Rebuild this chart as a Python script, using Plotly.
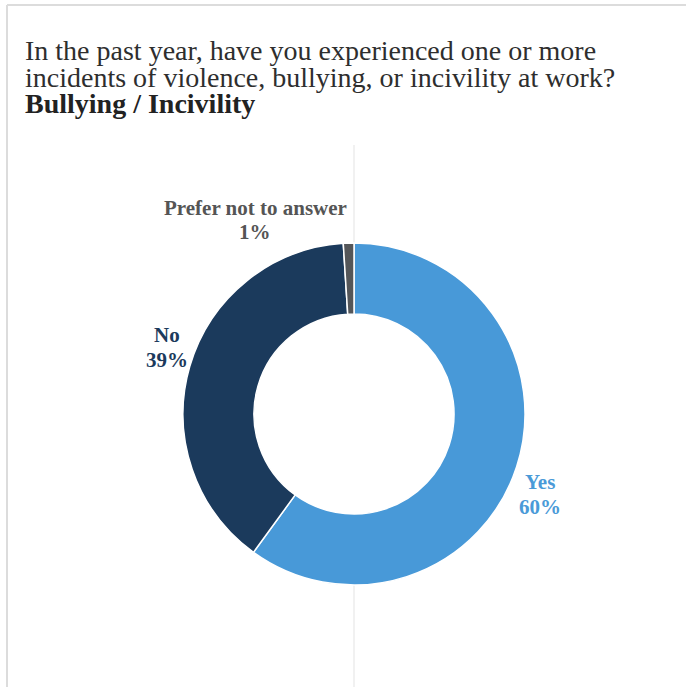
import plotly.graph_objects as go

# Survey responses: bullying / incivility at work
categories = ["Yes", "No", "Prefer not to answer"]
shares = [60, 39, 1]
slice_colors = ["#4899d8", "#1b3a5c", "#545659"]
label_colors = ["#4a9ad8", "#1b3a5c", "#555555"]

title_lines = [
    "In the past year, have you experienced one or more",
    "incidents of violence, bullying, or incivility at work?",
]
subtitle = "Bullying / Incivility"

W, H = 686, 687
cx, cy, R = 354, 414, 171  # donut centre and radius in pixels
serif = "Liberation Serif, Times New Roman, serif"


def px(x):
    return x / W


def py(y):
    return 1 - y / H


fig = go.Figure()
fig.add_trace(go.Pie(
    labels=categories,
    values=shares,
    sort=False,
    direction="clockwise",
    rotation=0,
    hole=0.585,
    marker=dict(colors=slice_colors, line=dict(color="white", width=1.5)),
    textinfo="none",
    hoverinfo="label+percent",
    showlegend=False,
    domain=dict(x=[px(cx - R), px(cx + R)], y=[py(cy + R), py(cy - R)]),
))

# Slice labels placed around the ring: name on one line, share below
label_pos = {"Yes": (540, 494), "No": (167, 347), "Prefer not to answer": (255, 220)}
for cat, val, col in zip(categories, shares, label_colors):
    x, y = label_pos[cat]
    for text, yy in ((cat, y - 12.5), (f"{val}%", y + 12.5)):
        fig.add_annotation(
            x=px(x), y=py(yy), xref="paper", yref="paper",
            text=f"<b>{text}</b>", showarrow=False,
            font=dict(family=serif, size=21, color=col),
            xanchor="center", yanchor="middle",
        )

# Title block, set with tight leading
for i, line in enumerate(title_lines):
    fig.add_annotation(
        x=px(23), y=py(50 + 27 * i), xref="paper", yref="paper",
        text=line, showarrow=False, xanchor="left", yanchor="middle",
        font=dict(family=serif, size=28, color="#2e2e2e"),
    )
fig.add_annotation(
    x=px(23), y=py(104), xref="paper", yref="paper",
    text=f"<b>{subtitle}</b>", showarrow=False, xanchor="left", yanchor="middle",
    font=dict(family=serif, size=28, color="#222222"),
)

shapes = [
    # frame
    dict(type="line", xref="paper", yref="paper", x0=px(7), x1=1.01, y0=py(5), y1=py(5),
         line=dict(color="#dcdcdc", width=2)),
    dict(type="line", xref="paper", yref="paper", x0=px(7), x1=px(7), y0=py(5), y1=-0.01,
         line=dict(color="#dcdcdc", width=2)),
    # centre divider
    dict(type="line", xref="paper", yref="paper", x0=px(cx), x1=px(cx), y0=py(145), y1=py(cy - R),
         line=dict(color="#ececec", width=1.5), layer="below"),
    dict(type="line", xref="paper", yref="paper", x0=px(cx), x1=px(cx), y0=py(cy + R), y1=-0.01,
         line=dict(color="#ececec", width=1.5), layer="below"),
]

fig.update_layout(
    width=W, height=H,
    margin=dict(l=0, r=0, t=0, b=0),
    paper_bgcolor="white", plot_bgcolor="white",
    shapes=shapes,
)

fig.write_html("out.html")
